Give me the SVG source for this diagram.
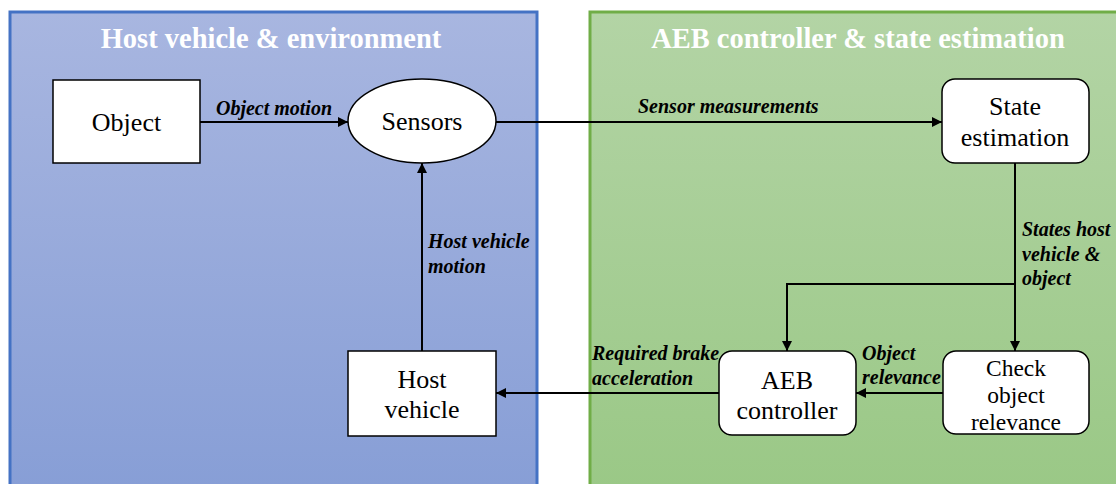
<svg xmlns="http://www.w3.org/2000/svg" width="1116" height="484" viewBox="0 0 1116 484">
  <defs>
    <linearGradient id="blueFill" x1="0" y1="0" x2="0" y2="1">
      <stop offset="0" stop-color="#A8B6E0"/>
      <stop offset="1" stop-color="#879ED6"/>
    </linearGradient>
    <linearGradient id="greenFill" x1="0" y1="0" x2="0" y2="1">
      <stop offset="0" stop-color="#B3D4A5"/>
      <stop offset="1" stop-color="#9AC886"/>
    </linearGradient>
    <marker id="arrow" viewBox="0 0 10 10" refX="10" refY="5" markerWidth="10" markerHeight="10" markerUnits="userSpaceOnUse" orient="auto">
      <path d="M0,0 L10,5 L0,10 z" fill="#000"/>
    </marker>
    <style>
      .panel-title { font-family: "Liberation Serif", "Times New Roman", serif; font-weight: bold; font-size: 28.5px; fill: #ffffff; text-anchor: middle; }
      .node-box { fill: #ffffff; stroke: #000; stroke-width: 1.5; }
      .node-text { font-family: "Liberation Serif", "Times New Roman", serif; font-size: 26px; fill: #000; text-anchor: middle; }
      .node-text-sm { font-size: 23.5px; }
      .edge { fill: none; stroke: #000; stroke-width: 2; }
      .edge-label { font-family: "Liberation Serif", "Times New Roman", serif; font-weight: bold; font-style: italic; font-size: 20px; fill: #000; }
    </style>
  </defs>

  <rect width="1116" height="484" fill="#ffffff"/>

  <!-- Panels -->
  <g id="panel-host">
    <rect x="10" y="12" width="527" height="480" fill="url(#blueFill)" stroke="#4472C4" stroke-width="3"/>
    <text class="panel-title" x="271" y="48">Host vehicle &amp; environment</text>
  </g>
  <g id="panel-aeb">
    <rect x="590" y="12" width="540" height="480" fill="url(#greenFill)" stroke="#70AD47" stroke-width="3"/>
    <text class="panel-title" x="858" y="48">AEB controller &amp; state estimation</text>
  </g>

  <!-- Connectors -->
  <g id="connectors">
    <line class="edge" x1="200" y1="122" x2="348" y2="122" marker-end="url(#arrow)"/>
    <text class="edge-label" x="274" y="115" text-anchor="middle">Object motion</text>

    <line class="edge" x1="496" y1="122" x2="942" y2="122" marker-end="url(#arrow)"/>
    <text class="edge-label" x="638" y="113">Sensor measurements</text>

    <line class="edge" x1="1015" y1="163" x2="1015" y2="351" marker-end="url(#arrow)"/>
    <polyline class="edge" points="1015,284 787,284 787,351" marker-end="url(#arrow)"/>
    <text class="edge-label" x="1022" y="236">States host</text>
    <text class="edge-label" x="1022" y="261">vehicle &amp;</text>
    <text class="edge-label" x="1022" y="285">object</text>

    <line class="edge" x1="943" y1="393" x2="856" y2="393" marker-end="url(#arrow)"/>
    <text class="edge-label" x="862" y="360">Object</text>
    <text class="edge-label" x="862" y="384">relevance</text>

    <line class="edge" x1="719" y1="393" x2="496" y2="393" marker-end="url(#arrow)"/>
    <text class="edge-label" x="592" y="360">Required brake</text>
    <text class="edge-label" x="592" y="385">acceleration</text>

    <line class="edge" x1="422" y1="351" x2="422" y2="163" marker-end="url(#arrow)"/>
    <text class="edge-label" x="428" y="248">Host vehicle</text>
    <text class="edge-label" x="428" y="273">motion</text>
  </g>

  <!-- Nodes -->
  <g id="node-object">
    <rect class="node-box" x="53" y="80" width="147" height="83"/>
    <text class="node-text" x="126.5" y="131">Object</text>
  </g>
  <g id="node-sensors">
    <ellipse class="node-box" cx="422" cy="121" rx="74" ry="42"/>
    <text class="node-text" x="422" y="130">Sensors</text>
  </g>
  <g id="node-state-estimation">
    <rect class="node-box" x="942" y="79" width="147" height="84" rx="13"/>
    <text class="node-text" x="1015" y="115">State</text>
    <text class="node-text" x="1015" y="146">estimation</text>
  </g>
  <g id="node-host-vehicle">
    <rect class="node-box" x="348" y="351" width="148" height="85"/>
    <text class="node-text" x="422" y="388">Host</text>
    <text class="node-text" x="422" y="418">vehicle</text>
  </g>
  <g id="node-aeb-controller">
    <rect class="node-box" x="719" y="351" width="137" height="84" rx="13"/>
    <text class="node-text" x="787" y="389">AEB</text>
    <text class="node-text" x="787" y="419">controller</text>
  </g>
  <g id="node-check-relevance">
    <rect class="node-box" x="943" y="351" width="146" height="83" rx="13"/>
    <text class="node-text node-text-sm" x="1016" y="376">Check</text>
    <text class="node-text node-text-sm" x="1016" y="403">object</text>
    <text class="node-text node-text-sm" x="1016" y="430">relevance</text>
  </g>
</svg>
